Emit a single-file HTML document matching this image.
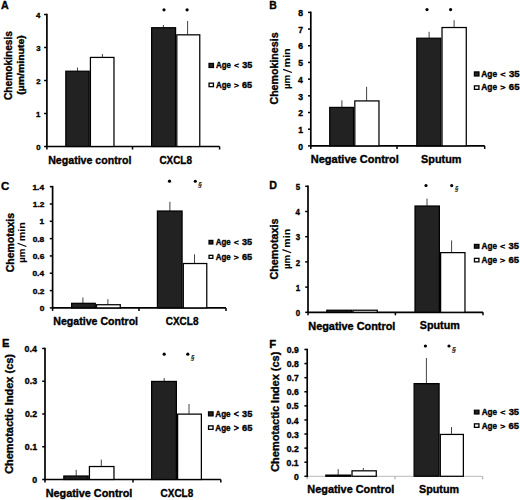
<!DOCTYPE html>
<html><head><meta charset="utf-8"><style>
html,body{margin:0;padding:0;background:#fff;width:520px;height:500px;overflow:hidden;}
svg{display:block;}
text{font-family:"Liberation Sans", sans-serif;font-weight:bold;fill:#000;stroke:#000;stroke-width:0.35px;}
</style></head><body>
<svg width="520" height="500" viewBox="0 0 520 500">
<text x="0.91" y="9.00" font-size="11.00" textLength="7.71" lengthAdjust="spacingAndGlyphs">A</text>
<line x1="44.10" y1="146.50" x2="46.90" y2="146.50" stroke="#000" stroke-width="1.5"/>
<text x="36.21" y="149.73" font-size="7.80" textLength="4.34" lengthAdjust="spacingAndGlyphs">0</text>
<line x1="44.10" y1="113.50" x2="46.90" y2="113.50" stroke="#000" stroke-width="1.5"/>
<text x="36.09" y="116.73" font-size="7.80" textLength="4.34" lengthAdjust="spacingAndGlyphs">1</text>
<line x1="44.10" y1="80.50" x2="46.90" y2="80.50" stroke="#000" stroke-width="1.5"/>
<text x="36.21" y="83.73" font-size="7.80" textLength="4.34" lengthAdjust="spacingAndGlyphs">2</text>
<line x1="44.10" y1="47.50" x2="46.90" y2="47.50" stroke="#000" stroke-width="1.5"/>
<text x="36.17" y="50.73" font-size="7.80" textLength="4.34" lengthAdjust="spacingAndGlyphs">3</text>
<line x1="44.10" y1="14.50" x2="46.90" y2="14.50" stroke="#000" stroke-width="1.5"/>
<text x="35.94" y="17.73" font-size="7.80" textLength="4.34" lengthAdjust="spacingAndGlyphs">4</text>
<line x1="46.90" y1="146.50" x2="219.60" y2="146.50" stroke="#000" stroke-width="1.7"/>
<line x1="46.90" y1="146.50" x2="46.90" y2="149.50" stroke="#000" stroke-width="1.5"/>
<line x1="132.50" y1="146.50" x2="132.50" y2="149.50" stroke="#000" stroke-width="1.5"/>
<line x1="219.60" y1="146.50" x2="219.60" y2="149.50" stroke="#000" stroke-width="1.5"/>
<line x1="77.50" y1="67.50" x2="77.50" y2="71.10" stroke="#444" stroke-width="1"/>
<rect x="65.83" y="71.22" width="23.35" height="75.25" fill="#222" stroke="#000" stroke-width="1.25"/>
<line x1="102.40" y1="54.00" x2="102.40" y2="57.30" stroke="#444" stroke-width="1"/>
<rect x="90.42" y="57.42" width="23.55" height="89.05" fill="#fff" stroke="#000" stroke-width="1.25"/>
<line x1="163.40" y1="25.00" x2="163.40" y2="27.60" stroke="#444" stroke-width="1"/>
<rect x="151.62" y="27.73" width="23.95" height="118.75" fill="#222" stroke="#000" stroke-width="1.25"/>
<line x1="187.60" y1="21.00" x2="187.60" y2="34.70" stroke="#444" stroke-width="1"/>
<rect x="176.82" y="34.83" width="22.95" height="111.65" fill="#fff" stroke="#000" stroke-width="1.25"/>
<line x1="46.90" y1="13.70" x2="46.90" y2="147.30" stroke="#000" stroke-width="1.7"/>
<circle cx="164.00" cy="9.85" r="1.6" fill="#000"/>
<circle cx="187.10" cy="9.85" r="1.6" fill="#000"/>
<rect x="209.00" y="63.40" width="4.50" height="4.10" fill="#222" stroke="#000" stroke-width="1.2"/>
<rect x="209.05" y="83.15" width="4.40" height="3.50" fill="#fff" stroke="#000" stroke-width="1.3"/>
<text x="216.08" y="68.40" font-size="8.35" textLength="14.88" lengthAdjust="spacingAndGlyphs">Age</text>
<text x="233.93" y="68.10" font-size="7.93" textLength="5.01" lengthAdjust="spacingAndGlyphs" style="font-weight:normal;stroke-width:0.5px">&lt;</text>
<text x="242.15" y="68.40" font-size="8.35" textLength="10.02" lengthAdjust="spacingAndGlyphs">35</text>
<text x="216.08" y="87.80" font-size="8.35" textLength="14.88" lengthAdjust="spacingAndGlyphs">Age</text>
<text x="233.93" y="87.50" font-size="7.93" textLength="5.01" lengthAdjust="spacingAndGlyphs" style="font-weight:normal;stroke-width:0.5px">&gt;</text>
<text x="242.06" y="87.80" font-size="8.35" textLength="10.12" lengthAdjust="spacingAndGlyphs">65</text>
<text x="48.19" y="163.50" font-size="10.92" textLength="83.14" lengthAdjust="spacingAndGlyphs">Negative control</text>
<text x="159.38" y="163.50" font-size="10.92" textLength="32.58" lengthAdjust="spacingAndGlyphs">CXCL8</text>
<text transform="translate(12.30,100.03) rotate(-90)" font-size="10.10" textLength="69.07" lengthAdjust="spacingAndGlyphs">Chemokinesis</text>
<text transform="translate(23.80,94.75) rotate(-90)" font-size="8.60" textLength="59.47" lengthAdjust="spacingAndGlyphs">(µm/minute)</text>
<text x="269.30" y="9.20" font-size="11.10" textLength="7.52" lengthAdjust="spacingAndGlyphs">B</text>
<line x1="308.00" y1="145.90" x2="310.80" y2="145.90" stroke="#000" stroke-width="1.5"/>
<text x="298.30" y="149.61" font-size="8.60" textLength="4.78" lengthAdjust="spacingAndGlyphs">0</text>
<line x1="308.00" y1="129.21" x2="310.80" y2="129.21" stroke="#000" stroke-width="1.5"/>
<text x="298.17" y="132.92" font-size="8.60" textLength="4.78" lengthAdjust="spacingAndGlyphs">1</text>
<line x1="308.00" y1="112.52" x2="310.80" y2="112.52" stroke="#000" stroke-width="1.5"/>
<text x="298.30" y="116.23" font-size="8.60" textLength="4.78" lengthAdjust="spacingAndGlyphs">2</text>
<line x1="308.00" y1="95.83" x2="310.80" y2="95.83" stroke="#000" stroke-width="1.5"/>
<text x="298.25" y="99.54" font-size="8.60" textLength="4.78" lengthAdjust="spacingAndGlyphs">3</text>
<line x1="308.00" y1="79.14" x2="310.80" y2="79.14" stroke="#000" stroke-width="1.5"/>
<text x="297.99" y="82.85" font-size="8.60" textLength="4.78" lengthAdjust="spacingAndGlyphs">4</text>
<line x1="308.00" y1="62.45" x2="310.80" y2="62.45" stroke="#000" stroke-width="1.5"/>
<text x="298.17" y="66.16" font-size="8.60" textLength="4.78" lengthAdjust="spacingAndGlyphs">5</text>
<line x1="308.00" y1="45.76" x2="310.80" y2="45.76" stroke="#000" stroke-width="1.5"/>
<text x="298.25" y="49.47" font-size="8.60" textLength="4.78" lengthAdjust="spacingAndGlyphs">6</text>
<line x1="308.00" y1="29.07" x2="310.80" y2="29.07" stroke="#000" stroke-width="1.5"/>
<text x="298.34" y="32.78" font-size="8.60" textLength="4.78" lengthAdjust="spacingAndGlyphs">7</text>
<line x1="308.00" y1="12.38" x2="310.80" y2="12.38" stroke="#000" stroke-width="1.5"/>
<text x="298.21" y="16.09" font-size="8.60" textLength="4.78" lengthAdjust="spacingAndGlyphs">8</text>
<line x1="310.80" y1="145.90" x2="484.70" y2="145.90" stroke="#000" stroke-width="1.7"/>
<line x1="310.80" y1="145.90" x2="310.80" y2="148.90" stroke="#000" stroke-width="1.5"/>
<line x1="397.00" y1="145.90" x2="397.00" y2="148.90" stroke="#000" stroke-width="1.5"/>
<line x1="484.70" y1="145.90" x2="484.70" y2="148.90" stroke="#000" stroke-width="1.5"/>
<line x1="341.90" y1="100.30" x2="341.90" y2="107.30" stroke="#444" stroke-width="1"/>
<rect x="329.73" y="107.42" width="23.85" height="38.45" fill="#222" stroke="#000" stroke-width="1.25"/>
<line x1="366.60" y1="86.80" x2="366.60" y2="100.80" stroke="#444" stroke-width="1"/>
<rect x="354.82" y="100.92" width="24.15" height="44.95" fill="#fff" stroke="#000" stroke-width="1.25"/>
<line x1="429.10" y1="31.80" x2="429.10" y2="38.10" stroke="#444" stroke-width="1"/>
<rect x="416.82" y="38.23" width="23.95" height="107.65" fill="#222" stroke="#000" stroke-width="1.25"/>
<line x1="454.10" y1="20.20" x2="454.10" y2="27.40" stroke="#444" stroke-width="1"/>
<rect x="442.02" y="27.52" width="24.25" height="118.35" fill="#fff" stroke="#000" stroke-width="1.25"/>
<line x1="310.80" y1="11.58" x2="310.80" y2="146.70" stroke="#000" stroke-width="1.7"/>
<circle cx="427.00" cy="9.60" r="1.6" fill="#000"/>
<circle cx="450.60" cy="9.60" r="1.6" fill="#000"/>
<rect x="474.40" y="71.90" width="4.60" height="4.10" fill="#222" stroke="#000" stroke-width="1.2"/>
<rect x="474.45" y="85.85" width="4.50" height="3.50" fill="#fff" stroke="#000" stroke-width="1.3"/>
<text x="481.27" y="76.80" font-size="8.35" textLength="15.81" lengthAdjust="spacingAndGlyphs">Age</text>
<text x="500.21" y="76.50" font-size="7.93" textLength="5.34" lengthAdjust="spacingAndGlyphs" style="font-weight:normal;stroke-width:0.5px">&lt;</text>
<text x="508.93" y="76.80" font-size="8.35" textLength="10.66" lengthAdjust="spacingAndGlyphs">35</text>
<text x="481.27" y="90.40" font-size="8.35" textLength="15.81" lengthAdjust="spacingAndGlyphs">Age</text>
<text x="500.21" y="90.10" font-size="7.93" textLength="5.34" lengthAdjust="spacingAndGlyphs" style="font-weight:normal;stroke-width:0.5px">&gt;</text>
<text x="508.83" y="90.40" font-size="8.35" textLength="10.76" lengthAdjust="spacingAndGlyphs">65</text>
<text x="310.76" y="163.10" font-size="10.07" textLength="88.15" lengthAdjust="spacingAndGlyphs">Negative Control</text>
<text x="421.10" y="163.00" font-size="10.49" textLength="40.40" lengthAdjust="spacingAndGlyphs">Sputum</text>
<text transform="translate(278.20,104.55) rotate(-90)" font-size="11.00" textLength="72.10" lengthAdjust="spacingAndGlyphs">Chemokinesis</text>
<text transform="translate(290.40,89.06) rotate(-90)" font-size="9.20" textLength="14.25" lengthAdjust="spacingAndGlyphs" style="stroke-width:0.1px">µm</text>
<line x1="291.90" y1="72.57" x2="283.10" y2="69.37" stroke="#000" stroke-width="1.15"/>
<text transform="translate(290.40,67.43) rotate(-90)" font-size="9.20" textLength="19.13" lengthAdjust="spacingAndGlyphs" style="stroke-width:0.1px">min</text>
<text x="1.01" y="189.80" font-size="11.50" textLength="8.32" lengthAdjust="spacingAndGlyphs">C</text>
<line x1="49.80" y1="307.90" x2="52.60" y2="307.90" stroke="#000" stroke-width="1.5"/>
<text x="39.72" y="310.96" font-size="7.60" textLength="4.65" lengthAdjust="spacingAndGlyphs">0</text>
<line x1="49.80" y1="290.58" x2="52.60" y2="290.58" stroke="#000" stroke-width="1.5"/>
<text x="32.74" y="293.64" font-size="7.60" textLength="11.62" lengthAdjust="spacingAndGlyphs">0.2</text>
<line x1="49.80" y1="273.26" x2="52.60" y2="273.26" stroke="#000" stroke-width="1.5"/>
<text x="32.45" y="276.32" font-size="7.60" textLength="11.62" lengthAdjust="spacingAndGlyphs">0.4</text>
<line x1="49.80" y1="255.94" x2="52.60" y2="255.94" stroke="#000" stroke-width="1.5"/>
<text x="32.70" y="259.00" font-size="7.60" textLength="11.62" lengthAdjust="spacingAndGlyphs">0.6</text>
<line x1="49.80" y1="238.62" x2="52.60" y2="238.62" stroke="#000" stroke-width="1.5"/>
<text x="32.66" y="241.68" font-size="7.60" textLength="11.62" lengthAdjust="spacingAndGlyphs">0.8</text>
<line x1="49.80" y1="221.30" x2="52.60" y2="221.30" stroke="#000" stroke-width="1.5"/>
<text x="39.59" y="224.36" font-size="7.60" textLength="4.65" lengthAdjust="spacingAndGlyphs">1</text>
<line x1="49.80" y1="203.98" x2="52.60" y2="203.98" stroke="#000" stroke-width="1.5"/>
<text x="32.74" y="207.04" font-size="7.60" textLength="11.62" lengthAdjust="spacingAndGlyphs">1.2</text>
<line x1="49.80" y1="186.66" x2="52.60" y2="186.66" stroke="#000" stroke-width="1.5"/>
<text x="32.45" y="189.72" font-size="7.60" textLength="11.62" lengthAdjust="spacingAndGlyphs">1.4</text>
<line x1="52.60" y1="307.90" x2="226.00" y2="307.90" stroke="#000" stroke-width="1.7"/>
<line x1="52.60" y1="307.90" x2="52.60" y2="310.90" stroke="#000" stroke-width="1.5"/>
<line x1="139.00" y1="307.90" x2="139.00" y2="310.90" stroke="#000" stroke-width="1.5"/>
<line x1="226.00" y1="307.90" x2="226.00" y2="310.90" stroke="#000" stroke-width="1.5"/>
<line x1="82.90" y1="297.50" x2="82.90" y2="303.20" stroke="#444" stroke-width="1"/>
<rect x="71.62" y="303.32" width="23.65" height="4.55" fill="#222" stroke="#000" stroke-width="1.25"/>
<line x1="107.90" y1="299.20" x2="107.90" y2="304.60" stroke="#444" stroke-width="1"/>
<rect x="96.53" y="304.73" width="23.75" height="3.15" fill="#fff" stroke="#000" stroke-width="1.25"/>
<line x1="169.90" y1="201.80" x2="169.90" y2="210.90" stroke="#444" stroke-width="1"/>
<rect x="157.43" y="211.03" width="24.65" height="96.85" fill="#222" stroke="#000" stroke-width="1.25"/>
<line x1="194.50" y1="254.30" x2="194.50" y2="263.40" stroke="#444" stroke-width="1"/>
<rect x="183.32" y="263.52" width="23.45" height="44.35" fill="#fff" stroke="#000" stroke-width="1.25"/>
<line x1="52.60" y1="185.86" x2="52.60" y2="308.70" stroke="#000" stroke-width="1.7"/>
<circle cx="169.50" cy="181.20" r="1.6" fill="#000"/>
<circle cx="195.30" cy="181.25" r="1.6" fill="#000"/>
<text x="198.21" y="187.00" font-size="7.20" textLength="3.69" lengthAdjust="spacingAndGlyphs" style="font-weight:normal;font-style:italic;stroke-width:0.2px">§</text>
<rect x="209.00" y="240.40" width="3.90" height="3.60" fill="#222" stroke="#000" stroke-width="1.2"/>
<rect x="209.05" y="255.35" width="3.80" height="3.00" fill="#fff" stroke="#000" stroke-width="1.3"/>
<text x="215.78" y="245.10" font-size="8.35" textLength="15.00" lengthAdjust="spacingAndGlyphs">Age</text>
<text x="233.78" y="244.80" font-size="7.93" textLength="5.05" lengthAdjust="spacingAndGlyphs" style="font-weight:normal;stroke-width:0.5px">&lt;</text>
<text x="242.07" y="245.10" font-size="8.35" textLength="10.11" lengthAdjust="spacingAndGlyphs">35</text>
<text x="215.78" y="259.80" font-size="8.35" textLength="15.00" lengthAdjust="spacingAndGlyphs">Age</text>
<text x="233.78" y="259.50" font-size="7.93" textLength="5.05" lengthAdjust="spacingAndGlyphs" style="font-weight:normal;stroke-width:0.5px">&gt;</text>
<text x="241.97" y="259.80" font-size="8.35" textLength="10.20" lengthAdjust="spacingAndGlyphs">65</text>
<text x="53.29" y="324.70" font-size="10.07" textLength="84.79" lengthAdjust="spacingAndGlyphs">Negative Control</text>
<text x="165.78" y="324.50" font-size="10.60" textLength="32.68" lengthAdjust="spacingAndGlyphs">CXCL8</text>
<text transform="translate(13.80,272.24) rotate(-90)" font-size="10.50" textLength="59.32" lengthAdjust="spacingAndGlyphs">Chemotaxis</text>
<text transform="translate(24.90,262.85) rotate(-90)" font-size="9.00" textLength="14.18" lengthAdjust="spacingAndGlyphs" style="stroke-width:0.1px">µm</text>
<line x1="26.40" y1="246.46" x2="17.60" y2="243.26" stroke="#000" stroke-width="1.15"/>
<text transform="translate(24.90,241.34) rotate(-90)" font-size="9.00" textLength="19.04" lengthAdjust="spacingAndGlyphs" style="stroke-width:0.1px">min</text>
<text x="269.28" y="188.80" font-size="11.50" textLength="7.69" lengthAdjust="spacingAndGlyphs">D</text>
<line x1="305.20" y1="312.30" x2="308.00" y2="312.30" stroke="#000" stroke-width="1.5"/>
<text x="295.76" y="316.00" font-size="8.30" textLength="4.39" lengthAdjust="spacingAndGlyphs">0</text>
<line x1="305.20" y1="287.10" x2="308.00" y2="287.10" stroke="#000" stroke-width="1.5"/>
<text x="295.65" y="290.81" font-size="8.30" textLength="4.39" lengthAdjust="spacingAndGlyphs">1</text>
<line x1="305.20" y1="261.90" x2="308.00" y2="261.90" stroke="#000" stroke-width="1.5"/>
<text x="295.76" y="265.61" font-size="8.30" textLength="4.39" lengthAdjust="spacingAndGlyphs">2</text>
<line x1="305.20" y1="236.70" x2="308.00" y2="236.70" stroke="#000" stroke-width="1.5"/>
<text x="295.72" y="240.41" font-size="8.30" textLength="4.39" lengthAdjust="spacingAndGlyphs">3</text>
<line x1="305.20" y1="211.50" x2="308.00" y2="211.50" stroke="#000" stroke-width="1.5"/>
<text x="295.49" y="215.21" font-size="8.30" textLength="4.39" lengthAdjust="spacingAndGlyphs">4</text>
<line x1="305.20" y1="186.30" x2="308.00" y2="186.30" stroke="#000" stroke-width="1.5"/>
<text x="295.65" y="190.01" font-size="8.30" textLength="4.39" lengthAdjust="spacingAndGlyphs">5</text>
<line x1="308.00" y1="312.30" x2="483.00" y2="312.30" stroke="#000" stroke-width="1.7"/>
<line x1="308.00" y1="312.30" x2="308.00" y2="315.30" stroke="#000" stroke-width="1.5"/>
<line x1="395.40" y1="312.30" x2="395.40" y2="315.30" stroke="#000" stroke-width="1.5"/>
<line x1="483.00" y1="312.30" x2="483.00" y2="315.30" stroke="#000" stroke-width="1.5"/>
<rect x="326.82" y="310.23" width="24.85" height="2.05" fill="#222" stroke="#000" stroke-width="1.25"/>
<rect x="352.93" y="310.23" width="24.35" height="2.05" fill="#fff" stroke="#000" stroke-width="1.25"/>
<line x1="427.00" y1="198.60" x2="427.00" y2="205.90" stroke="#444" stroke-width="1"/>
<rect x="415.02" y="206.03" width="24.35" height="106.25" fill="#222" stroke="#000" stroke-width="1.25"/>
<line x1="451.60" y1="240.40" x2="451.60" y2="252.50" stroke="#444" stroke-width="1"/>
<rect x="440.62" y="252.62" width="24.35" height="59.65" fill="#fff" stroke="#000" stroke-width="1.25"/>
<line x1="308.00" y1="185.50" x2="308.00" y2="313.10" stroke="#000" stroke-width="1.7"/>
<circle cx="426.00" cy="185.50" r="1.6" fill="#000"/>
<circle cx="451.70" cy="185.60" r="1.6" fill="#000"/>
<text x="454.92" y="191.20" font-size="7.20" textLength="3.46" lengthAdjust="spacingAndGlyphs" style="font-weight:normal;font-style:italic;stroke-width:0.2px">§</text>
<rect x="474.40" y="244.40" width="4.60" height="3.80" fill="#222" stroke="#000" stroke-width="1.2"/>
<rect x="474.45" y="258.35" width="4.50" height="3.50" fill="#fff" stroke="#000" stroke-width="1.3"/>
<text x="481.47" y="249.30" font-size="8.35" textLength="15.51" lengthAdjust="spacingAndGlyphs">Age</text>
<text x="500.07" y="249.00" font-size="7.93" textLength="5.23" lengthAdjust="spacingAndGlyphs" style="font-weight:normal;stroke-width:0.5px">&lt;</text>
<text x="508.63" y="249.30" font-size="8.35" textLength="10.45" lengthAdjust="spacingAndGlyphs">35</text>
<text x="481.47" y="263.20" font-size="8.35" textLength="15.51" lengthAdjust="spacingAndGlyphs">Age</text>
<text x="500.07" y="262.90" font-size="7.93" textLength="5.23" lengthAdjust="spacingAndGlyphs" style="font-weight:normal;stroke-width:0.5px">&gt;</text>
<text x="508.53" y="263.20" font-size="8.35" textLength="10.55" lengthAdjust="spacingAndGlyphs">65</text>
<text x="308.27" y="329.50" font-size="10.07" textLength="87.13" lengthAdjust="spacingAndGlyphs">Negative Control</text>
<text x="419.75" y="329.00" font-size="10.49" textLength="40.04" lengthAdjust="spacingAndGlyphs">Sputum</text>
<text transform="translate(278.10,279.56) rotate(-90)" font-size="10.30" textLength="60.95" lengthAdjust="spacingAndGlyphs">Chemotaxis</text>
<text transform="translate(289.70,269.05) rotate(-90)" font-size="9.00" textLength="14.07" lengthAdjust="spacingAndGlyphs" style="stroke-width:0.1px">µm</text>
<line x1="291.20" y1="252.79" x2="282.40" y2="249.59" stroke="#000" stroke-width="1.15"/>
<text transform="translate(289.70,247.70) rotate(-90)" font-size="9.00" textLength="18.89" lengthAdjust="spacingAndGlyphs" style="stroke-width:0.1px">min</text>
<text x="1.94" y="347.40" font-size="11.50" textLength="7.50" lengthAdjust="spacingAndGlyphs">E</text>
<line x1="42.20" y1="479.50" x2="45.00" y2="479.50" stroke="#000" stroke-width="1.5"/>
<text x="32.28" y="482.64" font-size="8.40" textLength="4.91" lengthAdjust="spacingAndGlyphs">0</text>
<line x1="42.20" y1="446.74" x2="45.00" y2="446.74" stroke="#000" stroke-width="1.5"/>
<text x="24.79" y="449.88" font-size="8.40" textLength="12.26" lengthAdjust="spacingAndGlyphs">0.1</text>
<line x1="42.20" y1="413.98" x2="45.00" y2="413.98" stroke="#000" stroke-width="1.5"/>
<text x="24.92" y="417.12" font-size="8.40" textLength="12.26" lengthAdjust="spacingAndGlyphs">0.2</text>
<line x1="42.20" y1="381.22" x2="45.00" y2="381.22" stroke="#000" stroke-width="1.5"/>
<text x="24.87" y="384.36" font-size="8.40" textLength="12.26" lengthAdjust="spacingAndGlyphs">0.3</text>
<line x1="42.20" y1="348.46" x2="45.00" y2="348.46" stroke="#000" stroke-width="1.5"/>
<text x="24.61" y="351.60" font-size="8.40" textLength="12.26" lengthAdjust="spacingAndGlyphs">0.4</text>
<line x1="45.00" y1="479.50" x2="220.80" y2="479.50" stroke="#000" stroke-width="1.7"/>
<line x1="45.00" y1="479.50" x2="45.00" y2="482.50" stroke="#000" stroke-width="1.5"/>
<line x1="133.00" y1="479.50" x2="133.00" y2="482.50" stroke="#000" stroke-width="1.5"/>
<line x1="220.80" y1="479.50" x2="220.80" y2="482.50" stroke="#000" stroke-width="1.5"/>
<line x1="76.20" y1="469.80" x2="76.20" y2="475.90" stroke="#444" stroke-width="1"/>
<rect x="63.83" y="476.02" width="24.35" height="3.45" fill="#222" stroke="#000" stroke-width="1.25"/>
<line x1="101.30" y1="459.60" x2="101.30" y2="466.40" stroke="#444" stroke-width="1"/>
<rect x="89.42" y="466.52" width="24.55" height="12.95" fill="#fff" stroke="#000" stroke-width="1.25"/>
<line x1="164.20" y1="378.00" x2="164.20" y2="381.30" stroke="#444" stroke-width="1"/>
<rect x="151.62" y="381.43" width="24.75" height="98.05" fill="#222" stroke="#000" stroke-width="1.25"/>
<line x1="189.00" y1="404.00" x2="189.00" y2="414.00" stroke="#444" stroke-width="1"/>
<rect x="177.62" y="414.12" width="23.75" height="65.35" fill="#fff" stroke="#000" stroke-width="1.25"/>
<line x1="45.00" y1="347.66" x2="45.00" y2="480.30" stroke="#000" stroke-width="1.7"/>
<circle cx="164.20" cy="354.20" r="1.6" fill="#000"/>
<circle cx="187.80" cy="354.20" r="1.6" fill="#000"/>
<text x="191.02" y="360.10" font-size="7.20" textLength="3.46" lengthAdjust="spacingAndGlyphs" style="font-weight:normal;font-style:italic;stroke-width:0.2px">§</text>
<rect x="208.50" y="411.85" width="4.60" height="4.05" fill="#222" stroke="#000" stroke-width="1.2"/>
<rect x="208.55" y="425.85" width="4.50" height="3.50" fill="#fff" stroke="#000" stroke-width="1.3"/>
<text x="215.37" y="417.30" font-size="8.56" textLength="15.26" lengthAdjust="spacingAndGlyphs">Age</text>
<text x="233.67" y="417.00" font-size="8.13" textLength="5.14" lengthAdjust="spacingAndGlyphs" style="font-weight:normal;stroke-width:0.5px">&lt;</text>
<text x="242.10" y="417.30" font-size="8.56" textLength="10.28" lengthAdjust="spacingAndGlyphs">35</text>
<text x="215.37" y="431.00" font-size="8.56" textLength="15.26" lengthAdjust="spacingAndGlyphs">Age</text>
<text x="233.67" y="430.70" font-size="8.13" textLength="5.14" lengthAdjust="spacingAndGlyphs" style="font-weight:normal;stroke-width:0.5px">&gt;</text>
<text x="242.00" y="431.00" font-size="8.56" textLength="10.38" lengthAdjust="spacingAndGlyphs">65</text>
<text x="45.67" y="496.90" font-size="10.07" textLength="86.73" lengthAdjust="spacingAndGlyphs">Negative Control</text>
<text x="160.58" y="496.60" font-size="10.28" textLength="32.58" lengthAdjust="spacingAndGlyphs">CXCL8</text>
<text transform="translate(12.90,473.86) rotate(-90)" font-size="10.50" textLength="119.81" lengthAdjust="spacingAndGlyphs">Chemotactic Index (cs)</text>
<text x="269.34" y="347.70" font-size="11.20" textLength="6.89" lengthAdjust="spacingAndGlyphs">F</text>
<line x1="304.40" y1="476.30" x2="307.20" y2="476.30" stroke="#000" stroke-width="1.5"/>
<text x="293.98" y="479.90" font-size="8.30" textLength="4.80" lengthAdjust="spacingAndGlyphs">0</text>
<line x1="304.40" y1="462.21" x2="307.20" y2="462.21" stroke="#000" stroke-width="1.5"/>
<text x="286.64" y="465.81" font-size="8.30" textLength="12.00" lengthAdjust="spacingAndGlyphs">0.1</text>
<line x1="304.40" y1="448.12" x2="307.20" y2="448.12" stroke="#000" stroke-width="1.5"/>
<text x="286.77" y="451.72" font-size="8.30" textLength="12.00" lengthAdjust="spacingAndGlyphs">0.2</text>
<line x1="304.40" y1="434.03" x2="307.20" y2="434.03" stroke="#000" stroke-width="1.5"/>
<text x="286.73" y="437.63" font-size="8.30" textLength="12.00" lengthAdjust="spacingAndGlyphs">0.3</text>
<line x1="304.40" y1="419.94" x2="307.20" y2="419.94" stroke="#000" stroke-width="1.5"/>
<text x="286.47" y="423.54" font-size="8.30" textLength="12.00" lengthAdjust="spacingAndGlyphs">0.4</text>
<line x1="304.40" y1="405.85" x2="307.20" y2="405.85" stroke="#000" stroke-width="1.5"/>
<text x="286.64" y="409.45" font-size="8.30" textLength="12.00" lengthAdjust="spacingAndGlyphs">0.5</text>
<line x1="304.40" y1="391.76" x2="307.20" y2="391.76" stroke="#000" stroke-width="1.5"/>
<text x="286.73" y="395.36" font-size="8.30" textLength="12.00" lengthAdjust="spacingAndGlyphs">0.6</text>
<line x1="304.40" y1="377.67" x2="307.20" y2="377.67" stroke="#000" stroke-width="1.5"/>
<text x="286.81" y="381.27" font-size="8.30" textLength="12.00" lengthAdjust="spacingAndGlyphs">0.7</text>
<line x1="304.40" y1="363.58" x2="307.20" y2="363.58" stroke="#000" stroke-width="1.5"/>
<text x="286.69" y="367.18" font-size="8.30" textLength="12.00" lengthAdjust="spacingAndGlyphs">0.8</text>
<line x1="304.40" y1="349.49" x2="307.20" y2="349.49" stroke="#000" stroke-width="1.5"/>
<text x="286.73" y="353.09" font-size="8.30" textLength="12.00" lengthAdjust="spacingAndGlyphs">0.9</text>
<line x1="307.20" y1="476.30" x2="482.60" y2="476.30" stroke="#bbb" stroke-width="1"/>
<line x1="307.20" y1="476.30" x2="307.20" y2="479.30" stroke="#bbb" stroke-width="1.5"/>
<line x1="395.00" y1="476.30" x2="395.00" y2="479.30" stroke="#bbb" stroke-width="1.5"/>
<line x1="482.60" y1="476.30" x2="482.60" y2="479.30" stroke="#bbb" stroke-width="1.5"/>
<line x1="338.20" y1="469.20" x2="338.20" y2="475.00" stroke="#444" stroke-width="1"/>
<rect x="325.82" y="475.12" width="24.95" height="1.15" fill="#222" stroke="#000" stroke-width="1.25"/>
<line x1="363.30" y1="468.00" x2="363.30" y2="470.70" stroke="#444" stroke-width="1"/>
<rect x="352.02" y="470.82" width="24.25" height="5.45" fill="#fff" stroke="#000" stroke-width="1.25"/>
<line x1="426.40" y1="358.00" x2="426.40" y2="383.50" stroke="#444" stroke-width="1"/>
<rect x="414.12" y="383.62" width="24.95" height="92.65" fill="#222" stroke="#000" stroke-width="1.25"/>
<line x1="451.50" y1="427.00" x2="451.50" y2="434.30" stroke="#444" stroke-width="1"/>
<rect x="440.32" y="434.43" width="23.05" height="41.85" fill="#fff" stroke="#000" stroke-width="1.25"/>
<line x1="307.20" y1="348.69" x2="307.20" y2="477.10" stroke="#000" stroke-width="1.7"/>
<circle cx="425.40" cy="346.00" r="1.6" fill="#000"/>
<circle cx="449.00" cy="346.00" r="1.6" fill="#000"/>
<text x="451.99" y="351.90" font-size="7.20" textLength="4.03" lengthAdjust="spacingAndGlyphs" style="font-weight:normal;font-style:italic;stroke-width:0.2px">§</text>
<rect x="474.40" y="410.20" width="4.60" height="3.80" fill="#222" stroke="#000" stroke-width="1.2"/>
<rect x="474.45" y="423.85" width="4.50" height="3.50" fill="#fff" stroke="#000" stroke-width="1.3"/>
<text x="481.67" y="415.00" font-size="8.35" textLength="15.43" lengthAdjust="spacingAndGlyphs">Age</text>
<text x="500.17" y="414.70" font-size="7.93" textLength="5.20" lengthAdjust="spacingAndGlyphs" style="font-weight:normal;stroke-width:0.5px">&lt;</text>
<text x="508.68" y="415.00" font-size="8.35" textLength="10.40" lengthAdjust="spacingAndGlyphs">35</text>
<text x="481.67" y="428.80" font-size="8.35" textLength="15.43" lengthAdjust="spacingAndGlyphs">Age</text>
<text x="500.17" y="428.50" font-size="7.93" textLength="5.20" lengthAdjust="spacingAndGlyphs" style="font-weight:normal;stroke-width:0.5px">&gt;</text>
<text x="508.59" y="428.80" font-size="8.35" textLength="10.50" lengthAdjust="spacingAndGlyphs">65</text>
<text x="307.37" y="493.10" font-size="10.07" textLength="87.03" lengthAdjust="spacingAndGlyphs">Negative Control</text>
<text x="419.05" y="493.00" font-size="10.49" textLength="40.04" lengthAdjust="spacingAndGlyphs">Sputum</text>
<text transform="translate(279.30,471.86) rotate(-90)" font-size="10.20" textLength="120.21" lengthAdjust="spacingAndGlyphs">Chemotactic Index (cs)</text>
</svg></body></html>
